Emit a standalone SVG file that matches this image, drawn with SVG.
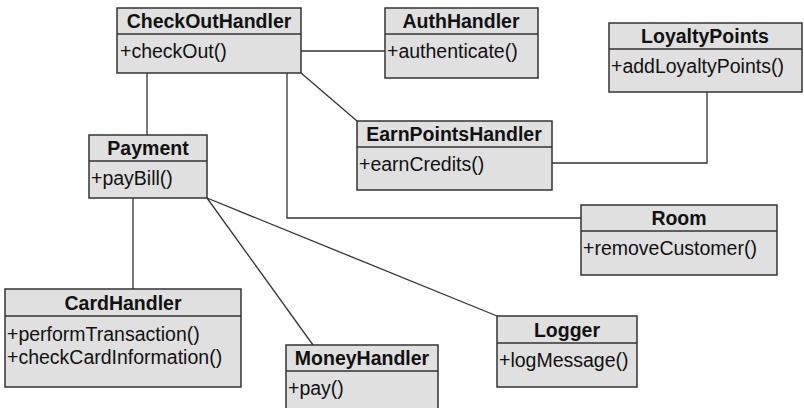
<svg xmlns="http://www.w3.org/2000/svg" width="804" height="408" viewBox="0 0 804 408">
<style>
.box{fill:#e0e0e0;stroke:#333;stroke-width:1.5}
.sep{stroke:#333;stroke-width:1.5}
.t{font-family:"Liberation Sans",Arial,sans-serif;font-size:19.5px;fill:#111;font-weight:bold;text-anchor:middle}
.m{font-family:"Liberation Sans",Arial,sans-serif;font-size:19.5px;fill:#111}
.c{fill:none;stroke:#333;stroke-width:1.3}
</style>
<rect width="804" height="408" fill="#fff"/>
<g id="connectors">
<line class="c" x1="301" y1="51" x2="385" y2="51"/>
<line class="c" x1="147" y1="73" x2="147" y2="135"/>
<polyline class="c" points="287,73 287,218 581,218"/>
<line class="c" x1="301" y1="73" x2="357" y2="121"/>
<polyline class="c" points="552,163 707,163 707,92"/>
<line class="c" x1="133" y1="198" x2="133" y2="289"/>
<line class="c" x1="207" y1="198" x2="313" y2="345"/>
<line class="c" x1="207" y1="198" x2="497" y2="316"/>
</g>
<g id="CheckOutHandler">
<rect class="box" x="117" y="8" width="184" height="65"/>
<line class="sep" x1="117" y1="34" x2="301" y2="34"/>
<text class="t" x="209" y="28">CheckOutHandler</text>
<text class="m" x="120" y="58">+checkOut()</text>
</g>
<g id="AuthHandler">
<rect class="box" x="385" y="8" width="153" height="70"/>
<line class="sep" x1="385" y1="34" x2="538" y2="34"/>
<text class="t" x="461" y="28">AuthHandler</text>
<text class="m" x="387" y="58">+authenticate()</text>
</g>
<g id="LoyaltyPoints">
<rect class="box" x="609" y="23" width="193" height="69"/>
<line class="sep" x1="609" y1="49" x2="802" y2="49"/>
<text class="t" x="705" y="43">LoyaltyPoints</text>
<text class="m" x="611" y="73">+addLoyaltyPoints()</text>
</g>
<g id="Payment">
<rect class="box" x="89" y="135" width="118" height="63"/>
<line class="sep" x1="89" y1="161" x2="207" y2="161"/>
<text class="t" x="148" y="155">Payment</text>
<text class="m" x="91" y="185">+payBill()</text>
</g>
<g id="EarnPointsHandler">
<rect class="box" x="357" y="121" width="195" height="69"/>
<line class="sep" x1="357" y1="147" x2="552" y2="147"/>
<text class="t" x="454" y="141">EarnPointsHandler</text>
<text class="m" x="359" y="171">+earnCredits()</text>
</g>
<g id="Room">
<rect class="box" x="581" y="205" width="196" height="70"/>
<line class="sep" x1="581" y1="231" x2="777" y2="231"/>
<text class="t" x="679" y="225">Room</text>
<text class="m" x="583" y="255">+removeCustomer()</text>
</g>
<g id="CardHandler">
<rect class="box" x="5" y="289" width="236" height="98"/>
<line class="sep" x1="5" y1="316" x2="241" y2="316"/>
<text class="t" x="123" y="310">CardHandler</text>
<text class="m" x="7" y="341">+performTransaction()</text>
<text class="m" x="7" y="364">+checkCardInformation()</text>
</g>
<g id="MoneyHandler">
<rect class="box" x="286" y="345" width="152" height="75"/>
<line class="sep" x1="286" y1="371" x2="438" y2="371"/>
<text class="t" x="362" y="365">MoneyHandler</text>
<text class="m" x="288" y="395">+pay()</text>
</g>
<g id="Logger">
<rect class="box" x="497" y="316" width="140" height="71"/>
<line class="sep" x1="497" y1="343" x2="637" y2="343"/>
<text class="t" x="567" y="337">Logger</text>
<text class="m" x="499" y="367">+logMessage()</text>
</g>
</svg>
